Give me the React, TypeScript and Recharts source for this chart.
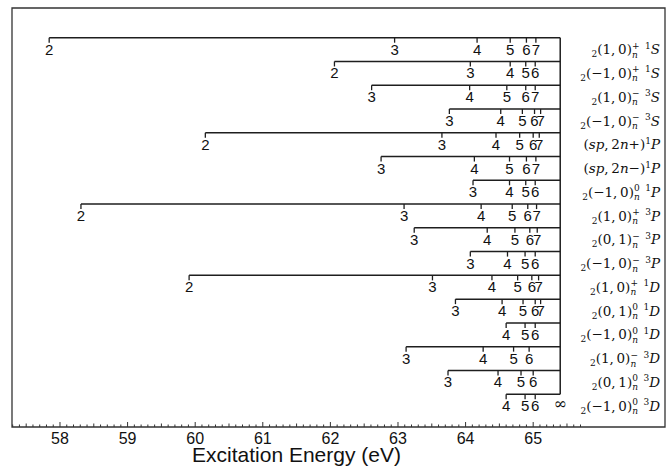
import {
  ComposedChart,
  XAxis,
  YAxis,
  Scatter,
  ReferenceLine,
  ReferenceArea,
} from 'recharts'

// series limit (He+ N=2 threshold)
const LIMIT = 65.4

// first principal quantum number shown in each series
const FIRST_N = [2, 2, 3, 3, 2, 3, 3, 2, 3, 3, 2, 3, 4, 3, 3, 4]

// level energies (eV), one list per series
const LEVELS = [
  [57.84, 62.95, 64.17, 64.66, 64.9, 65.04],
  [62.06, 64.07, 64.66, 64.89, 65.03],
  [62.61, 64.06, 64.61, 64.89, 65.03],
  [63.76, 64.52, 64.84, 65.02, 65.11],
  [60.15, 63.65, 64.45, 64.8, 65.0, 65.09],
  [62.75, 64.13, 64.65, 64.9, 65.04],
  [64.11, 64.65, 64.89, 65.03],
  [58.31, 63.09, 64.23, 64.69, 64.92, 65.05],
  [63.24, 64.32, 64.73, 64.95, 65.06],
  [64.07, 64.62, 64.88, 65.03],
  [59.91, 63.51, 64.39, 64.77, 64.98, 65.08],
  [63.85, 64.54, 64.85, 65.03, 65.11],
  [64.6, 64.88, 65.03],
  [63.12, 64.26, 64.71, 64.94],
  [63.74, 64.48, 64.82, 65.0],
  [64.6, 64.88, 65.03],
]

// series labels, split into pieces
const CORE = [
  '(1,\u20090)', '(\u22121,\u20090)', '(1,\u20090)', '(\u22121,\u20090)',
  'sp', 'sp', '(\u22121,\u20090)', '(1,\u20090)',
  '(0,\u20091)', '(\u22121,\u20090)', '(1,\u20090)', '(0,\u20091)',
  '(\u22121,\u20090)', '(1,\u20090)', '(0,\u20091)', '(\u22121,\u20090)',
]
const PARITY = ['+', '+', '\u2212', '\u2212', '+', '\u2212', '0', '+', '\u2212', '\u2212', '+', '0', '0', '\u2212', '0', '0']
const MULT = ['1', '1', '3', '3', '1', '1', '1', '3', '3', '3', '1', '1', '1', '3', '3', '3']
const TERM = ['S', 'S', 'S', 'S', 'P', 'P', 'P', 'P', 'P', 'P', 'D', 'D', 'D', 'D', 'D', 'D']

const MAJOR_TICKS = [58, 59, 60, 61, 62, 63, 64, 65]
const X_DOMAIN = [57.29, 66.95]
const Y_DOMAIN = [-1.25, 16.38]

const TENTHS = Array.from({ length: 85 }, (_, k) => Math.round((57.3 + k * 0.1) * 10) / 10)

const levelPoints = LEVELS.flatMap((row, i) =>
  row.map((e, k) => ({ x: e, y: i, n: String(FIRST_N[i] + k) })),
)
const infPoint = [{ x: LIMIT, y: LEVELS.length - 1, n: '\u221e' }]
// labels hang off the right edge of the frame
const labelPoints = LEVELS.map((_, i) => ({ x: X_DOMAIN[1], y: i, idx: i }))

const INK = '#1e1e1e'
const SANS = '"Liberation Sans", Arial, sans-serif'
const SERIF = '"DejaVu Serif", serif'

function LevelMark(props: any) {
  const { cx, cy, payload } = props
  return (
    <g>
      <line x1={cx} x2={cx} y1={cy} y2={cy + 5} stroke={INK} strokeWidth={1.3} />
      <text x={cx} y={cy + 17} textAnchor="middle" fontFamily={SANS} fontSize={15} fill="#111">
        {payload.n}
      </text>
    </g>
  )
}

function InfMark(props: any) {
  const { cx, cy, payload } = props
  return (
    <text x={cx} y={cy + 15} textAnchor="middle" fontFamily={SERIF} fontSize={16} fill="#111">
      {payload.n}
    </text>
  )
}

function EnergyTick(props: any) {
  const { x, y, payload } = props
  const v = payload.value
  const major = Math.abs(v - Math.round(v)) < 1e-6
  const half = Math.abs(v * 2 - Math.round(v * 2)) < 1e-6
  const len = major ? 5 : half ? 3.5 : 2.5
  return (
    <g>
      <line x1={x} x2={x} y1={y} y2={y - len} stroke="#333" strokeWidth={1} />
      {major && MAJOR_TICKS.includes(Math.round(v)) && (
        <text x={x} y={y + 17} textAnchor="middle" fontFamily={SANS} fontSize={16} fill="#111">
          {Math.round(v)}
        </text>
      )}
    </g>
  )
}

function StateLabel(props: any) {
  const { cx, cy, payload } = props
  const i = payload.idx
  const sm = 9
  const x = cx - 5
  const y = cy + 16.5
  if (CORE[i] === 'sp') {
    return (
      <text x={x} y={y} textAnchor="end" fontFamily={SERIF} fontSize={13.5} fill="#111">
        <tspan>(</tspan>
        <tspan fontStyle="italic">sp</tspan>
        <tspan>,{'\u2009'}2</tspan>
        <tspan fontStyle="italic">n</tspan>
        <tspan>{PARITY[i]})</tspan>
        <tspan fontSize={sm} dy={-5.5}>{MULT[i]}</tspan>
        <tspan fontStyle="italic" dy={5.5}>{TERM[i]}</tspan>
      </text>
    )
  }
  return (
    <text x={x} y={y} textAnchor="end" fontFamily={SERIF} fontSize={13.5} fill="#111">
      <tspan fontSize={sm} dy={3}>2</tspan>
      <tspan dy={-3}>{CORE[i]}</tspan>
      <tspan fontSize={sm} fontStyle="italic" dy={3.5}>n</tspan>
      <tspan fontSize={sm} dx={-5.8} dy={-9}>{PARITY[i]}</tspan>
      <tspan fontSize={sm} dx={5.5}>{MULT[i]}</tspan>
      <tspan fontStyle="italic" dy={5.5}>{TERM[i]}</tspan>
    </text>
  )
}

function AxisTitle(props: any) {
  const { viewBox } = props
  return (
    <text
      x={viewBox.x + 284.5}
      y={viewBox.y + 35}
      textAnchor="middle"
      fontFamily={SANS}
      fontSize={21}
      fill="#111"
    >
      Excitation Energy (eV)
    </text>
  )
}

export default function App() {
  return (
    <div style={{ position: 'absolute', left: 0, top: 0, background: '#fff' }}>
      <ComposedChart width={670} height={476} margin={{ top: 8, right: 5, bottom: 0, left: 12 }}>
        <XAxis
          type="number"
          dataKey="x"
          domain={X_DOMAIN}
          allowDataOverflow
          ticks={TENTHS}
          interval={0}
          tickSize={0}
          tickMargin={0}
          axisLine={false}
          tickLine={false}
          tick={<EnergyTick />}
          height={49}
          label={<AxisTitle />}
        />
        <YAxis type="number" dataKey="y" reversed hide domain={Y_DOMAIN} allowDataOverflow />
        <ReferenceArea
          x1={X_DOMAIN[0]}
          x2={X_DOMAIN[1]}
          y1={Y_DOMAIN[0]}
          y2={Y_DOMAIN[1]}
          fill="none"
          stroke="#333"
          strokeWidth={1.3}
          ifOverflow="visible"
        />
        {LEVELS.map((row, i) => (
          <ReferenceLine
            key={i}
            segment={[{ x: row[0], y: i }, { x: LIMIT, y: i }]}
            stroke={INK}
            strokeWidth={1.5}
          />
        ))}
        <ReferenceLine
          segment={[{ x: LIMIT, y: 0 }, { x: LIMIT, y: LEVELS.length - 1 }]}
          stroke={INK}
          strokeWidth={1.5}
        />
        <Scatter data={levelPoints} shape={<LevelMark />} isAnimationActive={false} />
        <Scatter data={infPoint} shape={<InfMark />} isAnimationActive={false} />
        <Scatter data={labelPoints} shape={<StateLabel />} isAnimationActive={false} />
      </ComposedChart>
    </div>
  )
}
